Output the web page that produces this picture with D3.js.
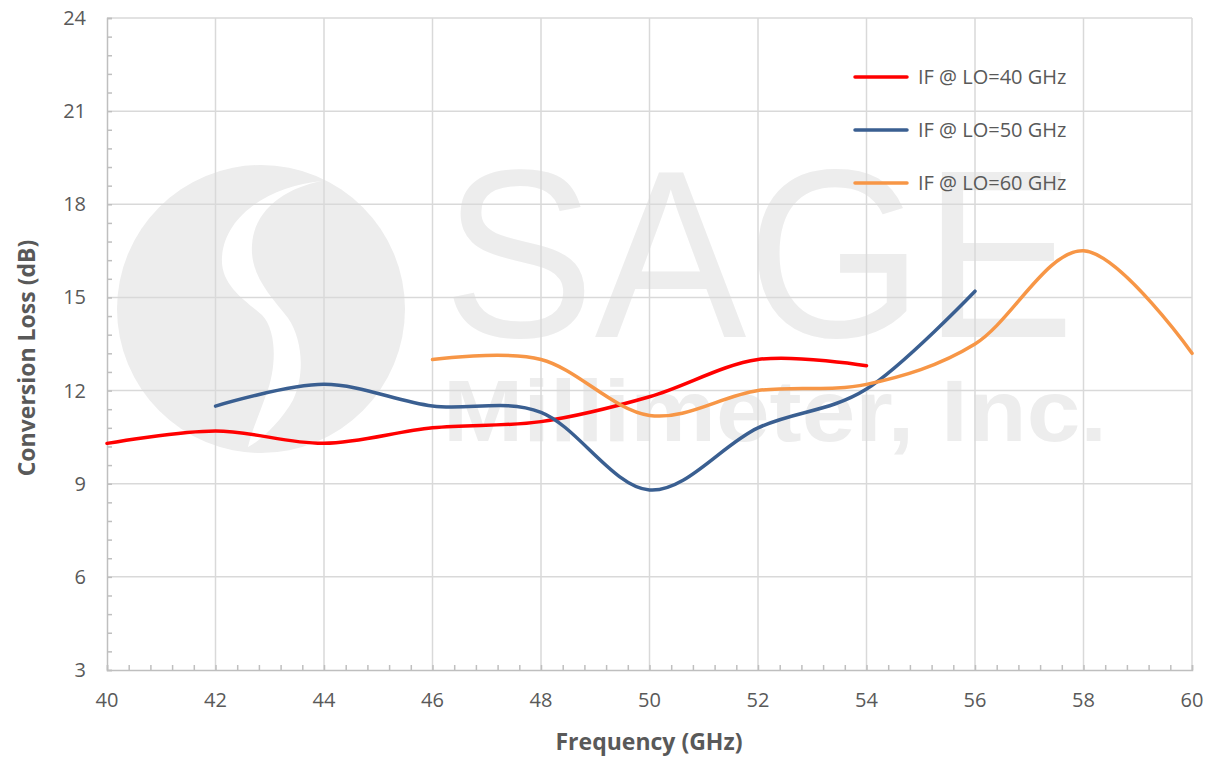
<!DOCTYPE html>
<html><head><meta charset="utf-8">
<script src="https://cdn.jsdelivr.net/npm/d3@7"></script>
<style>body{margin:0;background:#fff}svg{display:block}</style>
</head><body><svg id="c" width="1212" height="757"></svg>
<script>
const freqs40 = [40,42,44,46,48,50,52,54];
const vals40  = [10.3,10.7,10.3,10.8,11.0,11.8,13.0,12.8];
const freqs50 = [42,44,46,48,50,52,54,56];
const vals50  = [11.5,12.2,11.5,11.3,8.8,10.8,12.05,15.2];
const freqs60 = [46,48,50,52,54,56,58,60];
const vals60  = [13.0,13.0,11.2,12.0,12.2,13.5,16.5,13.2];
const seriesNames = ["IF @ LO=40 GHz","IF @ LO=50 GHz","IF @ LO=60 GHz"];
const seriesColors = ["#ff0000","#3a5f91","#f79646"];
const xTicks = [40,42,44,46,48,50,52,54,56,58,60];
const yTicks = [3,6,9,12,15,18,21,24];
const xTitle = "Frequency (GHz)";
const yTitle = "Conversion Loss (dB)";

const svg = d3.select("#c");
const L=107, R=1192, T=18, B=670;
const x = d3.scaleLinear().domain([40,60]).range([L,R]);
const y = d3.scaleLinear().domain([3,24]).range([B,T]);
const font = "'Open Sans', 'Liberation Sans', sans-serif";

// watermark
const wm = svg.append("g").attr("fill","#ededed");
wm.append("circle").attr("cx",261).attr("cy",309).attr("r",144);
wm.append("path").attr("fill","#ffffff")
  .attr("d","M322,181 C270,186 225,215 222,257 C220,285 245,300 262,315 C278,332 276,370 266,395 C259,415 252,430 248,447 C262,440 282,420 293,400 C305,375 303,340 288,318 C270,295 250,275 252,245 C254,210 285,188 322,181 Z");
wm.append("text").attr("x",443).attr("y",337).attr("font-family","'Liberation Sans', Arial, sans-serif")
  .attr("font-size",240).attr("textLength",632).attr("lengthAdjust","spacingAndGlyphs").text("SAGE");
wm.append("text").attr("x",443).attr("y",441).attr("font-family","'Liberation Sans', Arial, sans-serif")
  .attr("font-weight","bold").attr("font-size",88).attr("textLength",664).attr("lengthAdjust","spacingAndGlyphs").text("Millimeter, Inc.");

// gridlines
const grid = svg.append("g").attr("stroke","#d9d9d9").attr("stroke-width",1.5);
xTicks.forEach(t=>{ if(t>40) grid.append("line").attr("x1",x(t)).attr("x2",x(t)).attr("y1",T).attr("y2",B); });
yTicks.forEach(t=>{ if(t>3) grid.append("line").attr("x1",L).attr("x2",R).attr("y1",y(t)).attr("y2",y(t)); });

// axes
const axisColor="#bfbfbf";
const xAxis = svg.append("g").attr("transform",`translate(0,${B})`)
  .call(d3.axisBottom(x).tickValues(d3.range(40,60.001,0.4)).tickSize(-5).tickFormat(""));
const yAxis = svg.append("g").attr("transform",`translate(${L},0)`)
  .call(d3.axisLeft(y).tickValues(d3.range(3,24.001,0.6)).tickSize(-5).tickFormat(""));
[xAxis,yAxis].forEach(a=>{a.selectAll("path,line").attr("stroke",axisColor).attr("stroke-width",1.5);});

// tick labels
svg.append("g").selectAll("text").data(xTicks).join("text")
  .attr("x",d=>x(d)).attr("y",707).attr("text-anchor","middle")
  .attr("font-family",font).attr("font-size",20).attr("fill","#595959").text(d=>d);
svg.append("g").selectAll("text").data(yTicks).join("text")
  .attr("x",86).attr("y",d=>y(d)+7).attr("text-anchor","end")
  .attr("font-family",font).attr("font-size",20).attr("fill","#595959").text(d=>d);

// titles
svg.append("text").attr("x",649).attr("y",750).attr("text-anchor","middle")
  .attr("font-family",font).attr("font-weight","bold").attr("font-size",23).attr("fill","#595959").text(xTitle);
svg.append("text").attr("transform","translate(35,358) rotate(-90)").attr("text-anchor","middle")
  .attr("font-family",font).attr("font-weight","bold").attr("font-size",23).attr("fill","#595959").text(yTitle);

// series
const series = [[freqs40,vals40],[freqs50,vals50],[freqs60,vals60]];
const line = d3.line().x(d=>x(d[0])).y(d=>y(d[1])).curve(d3.curveCardinal.tension(0));
series.forEach((s,i)=>{
  svg.append("path").datum(s[0].map((f,j)=>[f,s[1][j]]))
    .attr("d",line).attr("fill","none").attr("stroke",seriesColors[i])
    .attr("stroke-width",3.5).attr("stroke-linecap","round");
});

// legend
const lg = svg.append("g");
seriesNames.forEach((n,i)=>{
  const yy = 77 + i*53;
  lg.append("line").attr("x1",855).attr("x2",907).attr("y1",yy).attr("y2",yy)
    .attr("stroke",seriesColors[i]).attr("stroke-width",3.5).attr("stroke-linecap","round");
  lg.append("text").attr("x",918).attr("y",yy+7).attr("font-family",font).attr("font-size",20)
    .attr("fill","#595959").text(n);
});
</script></body></html>
